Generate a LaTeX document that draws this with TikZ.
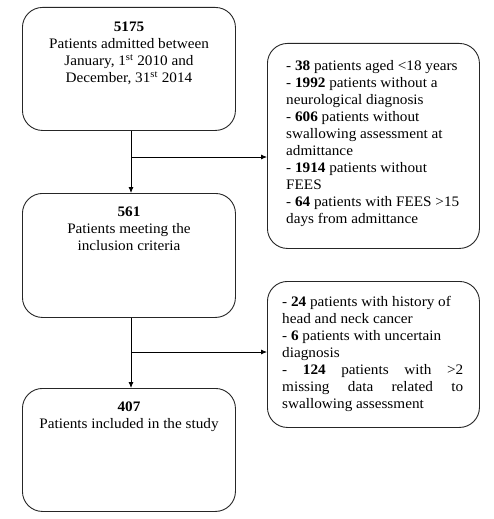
\documentclass[tikz,border=0pt]{standalone}
\usepackage{fontspec}
\setmainfont{Liberation Serif}[FakeStretch=1.05]
\usetikzlibrary{arrows.meta}
\begin{document}
\begin{tikzpicture}[x=1pt,y=-1pt,
  box/.style={draw=black!85, line width=0.9pt, rounded corners=20pt, inner sep=0pt, anchor=north west},
  txt/.style={inner sep=0pt, font=\fontsize{14.5}{17}\selectfont},
  arr/.style={line width=0.8pt, -{Latex[length=6pt,width=5pt]}}]
\useasboundingbox (0,0) rectangle (493,519);
% boxes
\node[box, minimum width=213pt, minimum height=123pt] (b1) at (22,7) {};
\node[box, minimum width=213pt, minimum height=124pt] (b2) at (22,193) {};
\node[box, minimum width=213pt, minimum height=123pt] (b3) at (22,388) {};
\node[box, minimum width=212pt, minimum height=205pt] (r1) at (267,43) {};
\node[box, minimum width=212pt, minimum height=146pt] (r2) at (267,281) {};
% texts
\node[txt, align=center, anchor=north] (t1) at (129,22) {\textbf{5175}\\Patients admitted between\\January, 1\textsuperscript{st} 2010 and\\December, 31\textsuperscript{st} 2014};
\node[txt, align=center, anchor=north] (t2) at (129,207) {\textbf{561}\\Patients meeting the\\inclusion criteria};
\node[txt, align=center, anchor=north] (t3) at (129,402) {\textbf{407}\\Patients included in the study};
\node[txt, align=left, anchor=north west] (tr1) at (286,60) {- \textbf{38} patients aged <18 years\\- \textbf{1992} patients without a\\neurological diagnosis\\- \textbf{606} patients without\\swallowing assessment at\\admittance\\- \textbf{1914} patients without\\FEES\\- \textbf{64} patients with FEES >15\\days from admittance};
\node[txt, align=left, anchor=north west] (tr2) at (282,296) {- \textbf{24} patients with history of\\head and neck cancer\\- \textbf{6} patients with uncertain\\diagnosis\\\makebox[181pt][s]{- \textbf{124} patients with >2}\\\makebox[181pt][s]{missing data related to}\\swallowing assessment};
% connectors
\coordinate (j1) at (131,157);
\coordinate (j2) at (131,352);
\draw[arr] (b1.south -| j1) -- (b2.north -| j1);
\draw[arr] (j1) -- (r1.west |- j1);
\draw[arr] (b2.south -| j2) -- (b3.north -| j2);
\draw[arr] (j2) -- (r2.west |- j2);
\end{tikzpicture}
\end{document}
